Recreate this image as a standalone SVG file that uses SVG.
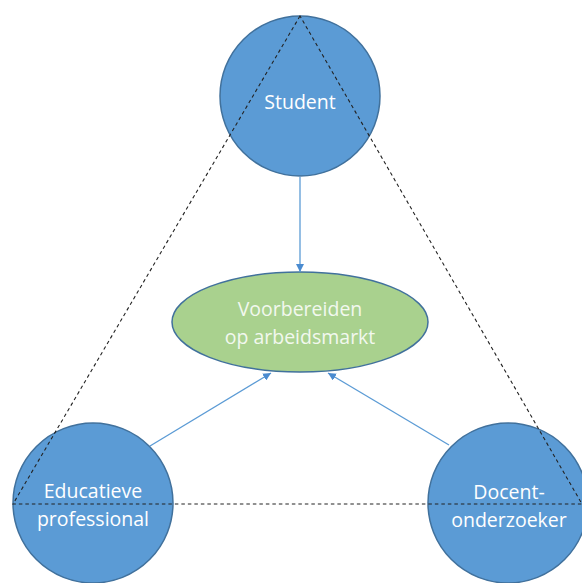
<svg xmlns="http://www.w3.org/2000/svg" width="582" height="583" viewBox="0 0 582 583">
<style>
.node{fill:#5B9BD5;stroke:#41719C;stroke-width:1.5}
.goal{fill:#A9D18E;stroke:#41719C;stroke-width:1.5}
.lbl{font-family:"Open Sans","Liberation Sans",sans-serif;font-size:19.5px;fill:#FFFFFF;text-anchor:middle}
.glbl{fill:#F2F8EE}
.arrow{stroke:#5B9BD5;stroke-width:1.3;fill:none;marker-end:url(#ah)}
.dash{stroke:#222;stroke-width:1.1;fill:none;stroke-dasharray:3.5 3}
</style>
<defs>
<marker id="ah" viewBox="0 0 10 10" refX="10" refY="5" markerWidth="8" markerHeight="8" markerUnits="userSpaceOnUse" orient="auto">
<path d="M0,0 L10,5 L0,10 z" fill="#4A8BD0"/>
</marker>
</defs>
<rect width="582" height="583" fill="#FFFFFF"/>
<g id="student">
<circle class="node" cx="300" cy="96" r="80"/>
<text class="lbl" x="300" y="109">Student</text>
</g>
<g id="educatieve-professional">
<circle class="node" cx="93" cy="503" r="80"/>
<text class="lbl" x="93" y="498">Educatieve</text>
<text class="lbl" x="93" y="526">professional</text>
</g>
<g id="docent-onderzoeker">
<circle class="node" cx="508" cy="503" r="80"/>
<text class="lbl" x="509" y="499">Docent-</text>
<text class="lbl" x="509" y="527">onderzoeker</text>
</g>
<g id="voorbereiden">
<ellipse class="goal" cx="300" cy="322" rx="128" ry="50"/>
<text class="lbl glbl" x="300" y="316">Voorbereiden</text>
<text class="lbl glbl" x="300" y="344">op arbeidsmarkt</text>
</g>
<g id="connectors">
<line class="arrow" x1="300" y1="177" x2="300" y2="272"/>
<line class="arrow" x1="150" y1="446" x2="271" y2="373"/>
<line class="arrow" x1="449" y1="445" x2="328" y2="373"/>
<path class="dash" d="M300,16 L13,504 L582,504 Z"/>
</g>
</svg>
